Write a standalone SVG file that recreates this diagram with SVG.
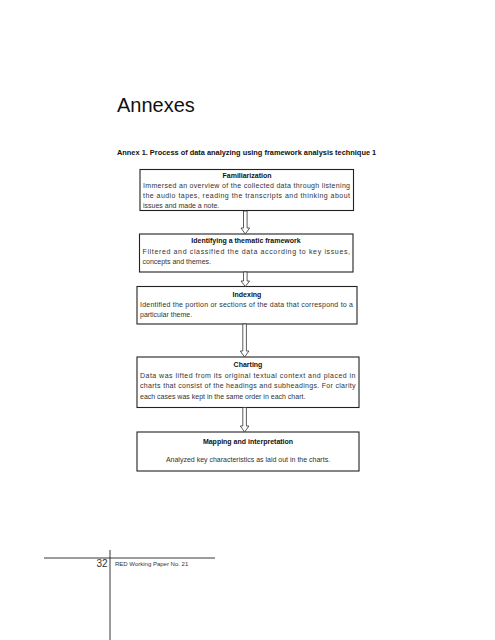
<svg xmlns="http://www.w3.org/2000/svg" width="495" height="640" viewBox="0 0 495 640">
<style>
.box{fill:#fff;stroke:#222;stroke-width:1.1}
.t{font-family:"Liberation Sans",Arial,sans-serif;font-size:7px;fill:#333}
.b{font-family:"Liberation Sans",Arial,sans-serif;font-size:7px;font-weight:bold;fill:#111;text-anchor:middle}
.arr{fill:#fff;stroke:#333;stroke-width:0.8}
.rule{stroke:#222;stroke-width:0.9}
</style>
<rect width="495" height="640" fill="#fff"/>
<text x="117" y="112" font-family="'Liberation Sans',Arial,sans-serif" font-size="20" fill="#111">Annexes</text>
<text x="117" y="155" font-family="'Liberation Sans',Arial,sans-serif" font-size="7.4" font-weight="bold" fill="#111">Annex 1. Process of data analyzing using framework analysis technique 1</text>

<g id="n1">
<rect class="box" x="140" y="169.5" width="213.5" height="41"/>
<text class="b" x="247" y="178">Familiarization</text>
<text class="t" x="143" y="188" textLength="207" lengthAdjust="spacing">Immersed an overview of the collected data through listening</text>
<text class="t" x="143" y="198" textLength="207" lengthAdjust="spacing">the audio tapes, reading the transcripts and thinking about</text>
<text class="t" x="143" y="208">issues and made a note.</text>
</g>
<g id="n2">
<rect class="box" x="139.5" y="234" width="213.5" height="38"/>
<text class="b" x="246" y="243">Identifying a thematic framework</text>
<text class="t" x="142.5" y="254" textLength="207.5" lengthAdjust="spacing">Filtered and classified the data according to key issues,</text>
<text class="t" x="142.5" y="264">concepts and themes.</text>
</g>
<g id="n3">
<rect class="box" x="137" y="286.5" width="220" height="37.5"/>
<text class="b" x="247" y="297">Indexing</text>
<text class="t" x="140" y="307" textLength="213" lengthAdjust="spacing">Identified the portion or sections of the data that correspond to a</text>
<text class="t" x="140" y="317">particular theme.</text>
</g>
<g id="n4">
<rect class="box" x="137" y="357" width="222" height="50.5"/>
<text class="b" x="248" y="367">Charting</text>
<text class="t" x="140" y="377.5" textLength="215.5" lengthAdjust="spacing">Data was lifted from its original textual context and placed in</text>
<text class="t" x="140" y="388" textLength="215.5" lengthAdjust="spacing">charts that consist of the headings and subheadings. For clarity</text>
<text class="t" x="140" y="398.5">each cases was kept in the same order in each chart.</text>
</g>
<g id="n5">
<rect class="box" x="137" y="432" width="222" height="39"/>
<text class="b" x="248" y="444">Mapping and interpretation</text>
<text class="t" x="248" y="462" text-anchor="middle">Analyzed key characteristics as laid out in the charts.</text>
</g>

<g id="connectors">
<path class="arr" d="M243.5 211 V228 H241 L245.3 234 L249.6 228 H247.1 V211 Z"/>
<path class="arr" d="M243.5 272 V281 H241 L245.3 286.5 L249.6 281 H247.1 V272 Z"/>
<path class="arr" d="M242.8 324 V351 H240.3 L244.6 357 L248.9 351 H246.4 V324 Z"/>
<path class="arr" d="M242.8 407.5 V426 H240.3 L244.6 432 L248.9 426 H246.4 V407.5 Z"/>
</g>

<g id="footer">
<line class="rule" x1="44" y1="558" x2="215" y2="558"/>
<line class="rule" x1="110" y1="550" x2="110" y2="640"/>
<text x="107.5" y="567" text-anchor="end" font-family="'Liberation Sans',Arial,sans-serif" font-size="10" fill="#333">32</text>
<text x="115" y="566" font-family="'Liberation Sans',Arial,sans-serif" font-size="6" fill="#333">RED Working Paper No. 21</text>
</g>
</svg>
